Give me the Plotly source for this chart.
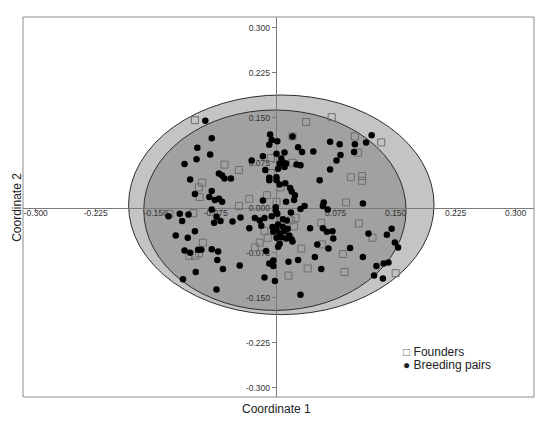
import plotly.graph_objects as go

# ---- data ----
founders_x = [-0.101, 0.038, 0.070, 0.099, 0.132, 0.103, 0.021, -0.064, -0.046, -0.006,
              0.021, -0.006, 0.094, 0.108, 0.108, -0.092, -0.096, -0.095, 0.006, -0.011,
              -0.033, 0.001, -0.046, 0.088, -0.133, -0.103, -0.091, -0.108, -0.101, -0.096,
              0.007, 0.019, 0.025, 0.023, -0.014, -0.010, -0.020, -0.026, 0.032, 0.057,
              0.058, 0.040, 0.016, 0.104, 0.121, 0.084, 0.086, 0.150]
founders_y = [0.146, 0.143, 0.151, 0.119, 0.109, 0.092, 0.119, 0.072, 0.063, 0.083,
              0.075, 0.058, 0.051, 0.053, 0.045, 0.042, 0.034, 0.018, 0.034, 0.021,
              0.015, 0.010, 0.003, 0.009, -0.010, -0.009, -0.058, -0.080, -0.080, -0.076,
              -0.021, -0.021, -0.017, -0.031, -0.039, -0.050, -0.058, -0.066, -0.068, -0.025,
              -0.061, -0.101, -0.113, -0.026, -0.050, -0.077, -0.107, -0.109]

pairs_x = [-0.088, -0.080, -0.098, -0.082, -0.099, -0.114, -0.071, -0.107, -0.101, -0.080,
           -0.083, -0.076, -0.071, -0.067, -0.080, -0.007, -0.005, 0.002, -0.008, 0.021,
           0.028, 0.033, 0.047, 0.001, 0.011, -0.016, -0.030, 0.007, 0.009, 0.013,
           0.005, 0.026, 0.031, 0.011, 0.003, -0.013, -0.008, -0.008, 0.001, 0.001,
           -0.067, -0.064, -0.056, 0.005, 0.012, 0.018, 0.020, 0.024, 0.023, 0.013,
           -0.016, 0.000, 0.036, 0.031, 0.120, 0.068, 0.080, 0.099, 0.113, 0.098,
           0.081, 0.076, 0.068, 0.055, 0.060, 0.059, 0.065, 0.109, -0.134, -0.120,
           -0.109, -0.117, -0.074, -0.069, -0.077, -0.101, -0.125, -0.110, -0.114, -0.107,
           -0.097, -0.093, -0.080, -0.072, -0.073, -0.066, -0.100, -0.116, -0.074, 0.019,
           0.000, 0.002, -0.054, -0.044, -0.026, -0.020, -0.014, -0.005, 0.009, 0.014,
           -0.033, -0.018, -0.004, 0.003, -0.003, 0.009, 0.011, 0.015, 0.017, 0.013,
           0.007, 0.001, 0.001, 0.005, 0.020, 0.021, 0.005, 0.003, -0.012, -0.003,
           -0.008, -0.003, 0.016, 0.028, 0.043, 0.049, 0.052, -0.045, -0.014, -0.001,
           0.031, 0.057, 0.059, 0.064, 0.071, 0.072, 0.066, 0.093, 0.109, 0.116,
           0.145, 0.139, 0.149, 0.153, 0.126, 0.135, 0.141, 0.123, 0.134]
pairs_y = [0.145, 0.116, 0.100, 0.089, 0.081, 0.073, 0.057, 0.047, 0.023, 0.028,
           0.018, 0.013, 0.015, 0.010, -0.003, 0.122, 0.113, 0.111, 0.105, 0.119,
           0.101, 0.093, 0.094, 0.090, 0.092, 0.086, 0.079, 0.082, 0.076, 0.074,
           0.074, 0.072, 0.071, 0.068, 0.065, 0.063, 0.050, 0.046, 0.051, 0.046,
           0.054, 0.049, 0.049, 0.039, 0.041, 0.033, 0.027, 0.021, 0.013, 0.010,
           0.012, 0.001, 0.003, -0.002, 0.121, 0.110, 0.106, 0.106, 0.109, 0.093,
           0.088, 0.079, 0.064, 0.046, 0.009, 0.003, -0.003, 0.007, -0.014, -0.010,
           -0.011, -0.022, -0.015, -0.022, -0.025, -0.039, -0.046, -0.050, -0.071, -0.075,
           -0.070, -0.070, -0.069, -0.073, -0.087, -0.102, -0.107, -0.119, -0.136, -0.008,
           -0.004, -0.010, -0.023, -0.016, -0.017, -0.021, -0.017, -0.014, -0.019, -0.021,
           -0.034, -0.030, -0.032, -0.028, -0.040, -0.032, -0.039, -0.035, -0.046, -0.051,
           -0.049, -0.050, -0.036, -0.043, -0.053, -0.056, -0.060, -0.065, -0.072, -0.088,
           -0.093, -0.097, -0.090, -0.087, -0.034, -0.082, -0.061, -0.096, -0.116, -0.122,
           -0.145, -0.102, -0.034, -0.040, -0.039, -0.051, -0.068, -0.067, -0.082, -0.043,
           -0.035, -0.045, -0.058, -0.066, -0.097, -0.093, -0.091, -0.113, -0.118]

# 95% ellipses: centre x, centre y, half-width, half-height
founders_ellipse = [0.007, 0.005, 0.191, 0.183]
pairs_ellipse = [-0.001, -0.004, 0.164, 0.167]

x_tick_values = [-0.300, -0.225, -0.150, -0.075, 0.075, 0.150, 0.225, 0.300]
x_tick_labels = ["-0.300", "-0.225", "-0.150", "-0.075", "0.075", "0.150", "0.225", "0.300"]
y_tick_values = [-0.300, -0.225, -0.150, -0.075, 0.000, 0.075, 0.150, 0.225, 0.300]
y_tick_labels = ["-0.300", "-0.225", "-0.150", "-0.075", "0.000", "0.075", "0.150", "0.225", "0.300"]

x_range = [-0.316, 0.323]
y_range = [-0.3153, 0.318]

FONT = "Arial, Liberation Sans, sans-serif"

fig = go.Figure()

fig.add_trace(go.Scatter(
    x=founders_x, y=founders_y, mode="markers", name="Founders", showlegend=False,
    marker=dict(symbol="square-open", size=7, color="#6e6e6e", line=dict(width=1, color="#6e6e6e")),
))
fig.add_trace(go.Scatter(
    x=pairs_x, y=pairs_y, mode="markers", name="Breeding pairs", showlegend=False,
    marker=dict(symbol="circle", size=6.5, color="#000000", line=dict(width=0)),
))

for (cx, cy, a, b), fill in ((founders_ellipse, "#c4c4c4"), (pairs_ellipse, "#a1a1a1")):
    fig.add_shape(type="circle", xref="x", yref="y", x0=cx - a, x1=cx + a, y0=cy - b, y1=cy + b,
                  fillcolor=fill, line=dict(color="#2e2e2e", width=1), layer="below")

# frame
fig.add_shape(type="rect", xref="paper", yref="paper", x0=0, x1=1, y0=0, y1=1,
              line=dict(color="#8c8c8c", width=1), layer="above")

x_pos = (0 - y_range[0]) / (y_range[1] - y_range[0])
y_pos = (0 - x_range[0]) / (x_range[1] - x_range[0])

fig.update_xaxes(range=x_range, anchor="free", position=x_pos, showgrid=False, zeroline=False,
                 showline=True, linecolor="#7a7a7a", linewidth=1, layer="below traces",
                 tickmode="array", tickvals=x_tick_values, ticktext=x_tick_labels,
                 ticks="outside", ticklen=3, tickcolor="#7a7a7a", tickwidth=1,
                 ticklabelstandoff=-6,
                 tickfont=dict(family=FONT, size=8.5, color="#333333"))
fig.update_yaxes(range=y_range, anchor="free", position=y_pos, showgrid=False, zeroline=False,
                 showline=True, linecolor="#7a7a7a", linewidth=1, layer="below traces",
                 tickmode="array", tickvals=y_tick_values, ticktext=y_tick_labels,
                 ticks="outside", ticklen=4, tickcolor="#7a7a7a", tickwidth=1,
                 tickfont=dict(family=FONT, size=8.5, color="#333333"))

fig.add_annotation(text="Coordinate 1", xref="paper", yref="paper", x=0.496, y=-0.032,
                   showarrow=False, xanchor="center", yanchor="middle",
                   font=dict(family=FONT, size=12, color="#222222"))
fig.add_annotation(text="Coordinate 2", xref="paper", yref="paper", x=-0.012, y=0.5,
                   showarrow=False, xanchor="center", yanchor="middle", textangle=-90,
                   font=dict(family=FONT, size=12, color="#222222"))
fig.add_annotation(text="<span style='color:#6e6e6e'>□</span> Founders", xref="paper", yref="paper",
                   x=0.739, y=0.118, showarrow=False, xanchor="left", yanchor="middle",
                   font=dict(family=FONT, size=12, color="#222222"))
fig.add_annotation(text="● Breeding pairs", xref="paper", yref="paper",
                   x=0.739, y=0.083, showarrow=False, xanchor="left", yanchor="middle",
                   font=dict(family=FONT, size=12, color="#222222"))

# the page body adds an 8 px margin, so the figure is sized to fill the rest of the window
fig.update_layout(width=534, height=408, margin=dict(l=15, r=8, t=9, b=19),
                  paper_bgcolor="white", plot_bgcolor="white", showlegend=False)

fig.write_html("out.html")
